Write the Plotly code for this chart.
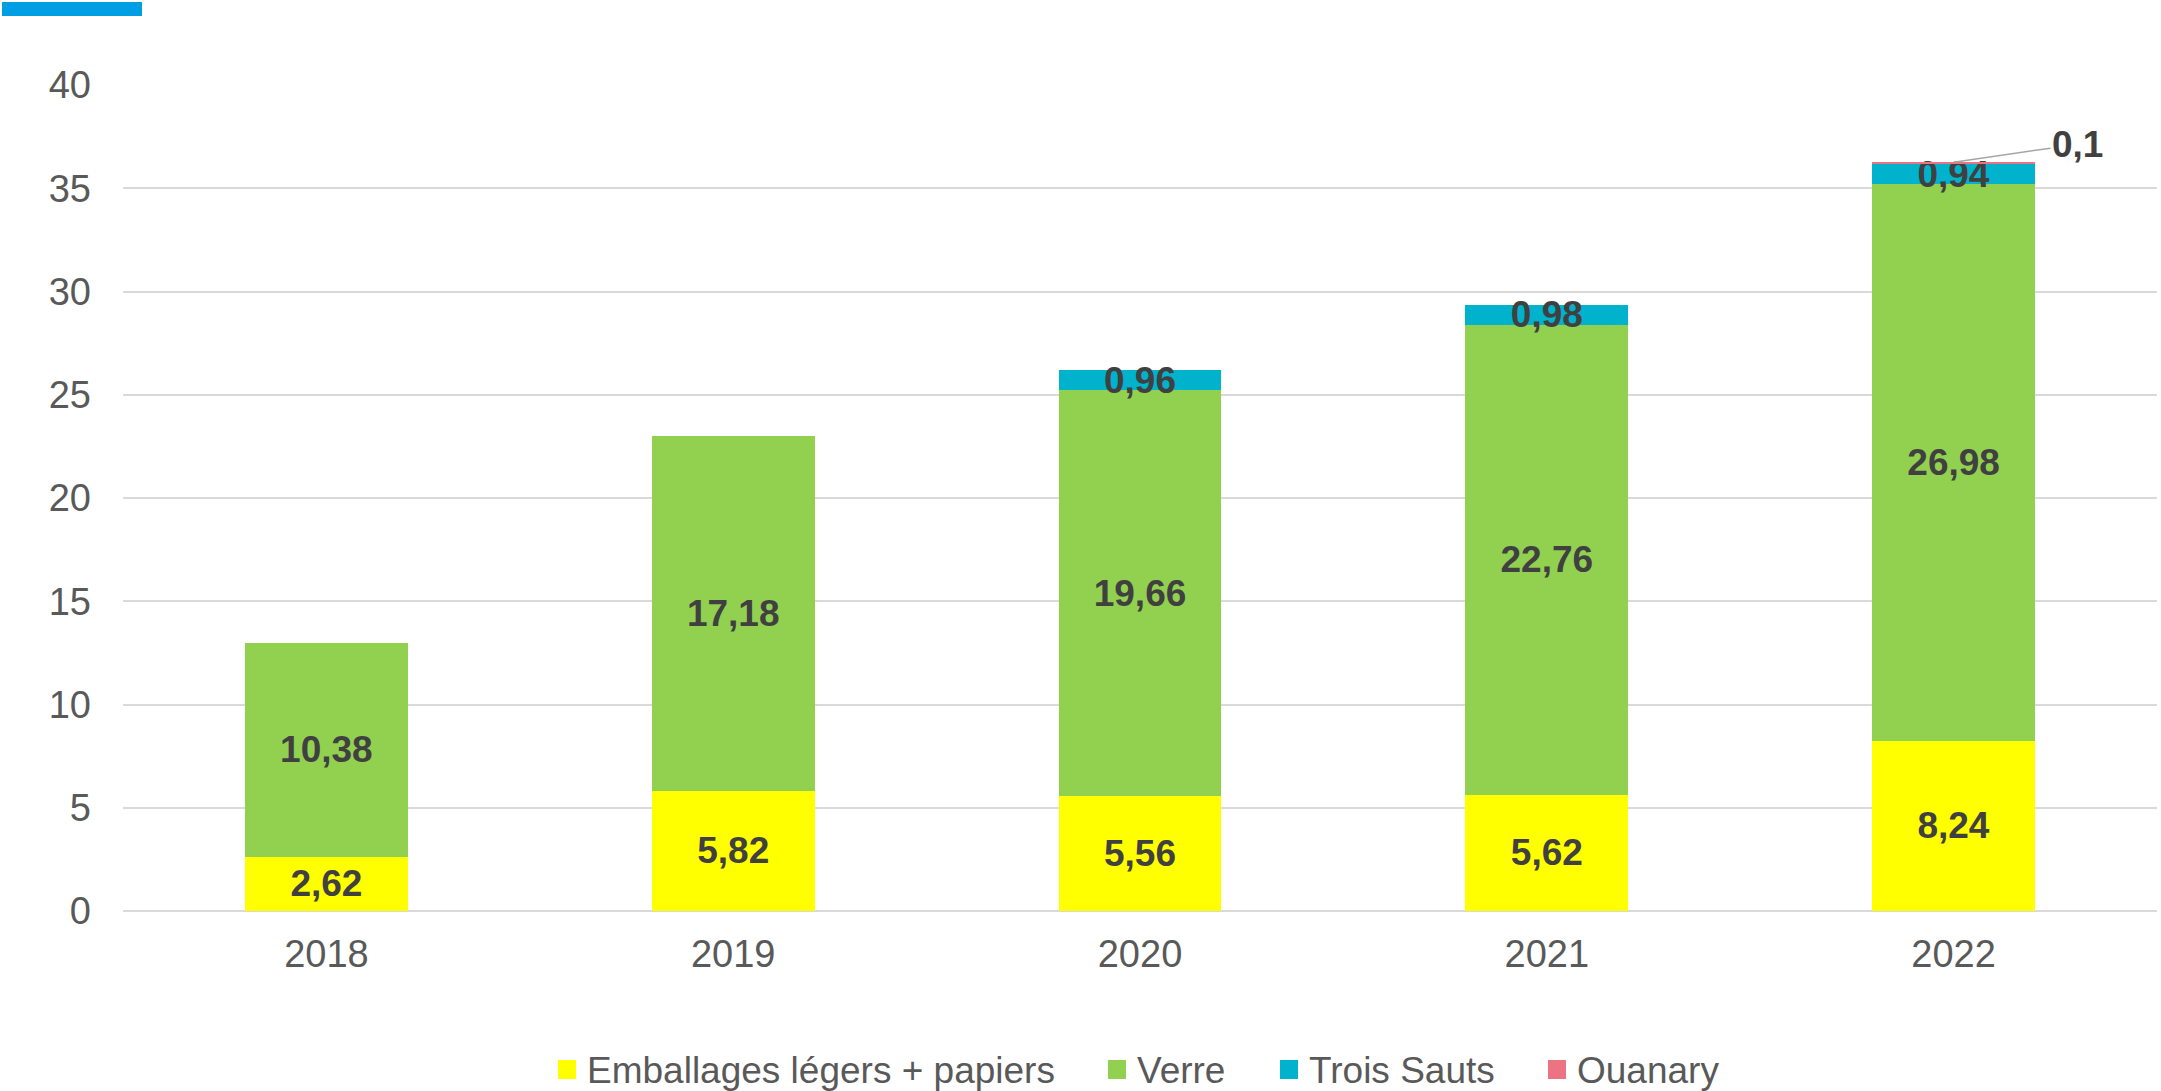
import plotly.graph_objects as go

years = ["2018", "2019", "2020", "2021", "2022"]
emballages = [2.62, 5.82, 5.56, 5.62, 8.24]
verre = [10.38, 17.18, 19.66, 22.76, 26.98]
trois_sauts = [None, None, 0.96, 0.98, 0.94]
ouanary = [None, None, None, None, 0.10]

series_names = ["Emballages légers + papiers", "Verre", "Trois Sauts", "Ouanary"]
series_values = [emballages, verre, trois_sauts, ouanary]
series_colors = ["#FFFF00", "#92D050", "#00B2CB", "#EC7381"]

FONT = "Liberation Sans, Arial, sans-serif"
W, H = 2161, 1091
M_L, M_R, M_T, M_B = 123, 4, 85, 180
PLOT_W = W - M_L - M_R
PLOT_H = H - M_T - M_B


def px_x(px):
    """pixel column -> paper x"""
    return (px - M_L) / PLOT_W


def px_y(py):
    """pixel row -> paper y"""
    return (H - M_B - py) / PLOT_H


def fmt(v):
    if v is None:
        return ""
    s = f"{v:.2f}".rstrip("0").rstrip(".")
    return s.replace(".", ",")


fig = go.Figure()
for name, vals, color in zip(series_names, series_values, series_colors):
    show_text = name != "Ouanary"
    fig.add_trace(go.Bar(
        x=years, y=vals, name=name,
        marker=dict(color=color, line=dict(width=0)),
        text=[fmt(v) for v in vals] if show_text else None,
        textposition="inside",
        insidetextanchor="middle",
        constraintext="none",
        textangle=0,
        textfont=dict(family=FONT, size=37, color="#404040", weight="bold"),
        cliponaxis=False,
        showlegend=False,
    ))

# Ouanary value is labelled outside the bar with a leader line
# (category axes position annotations by category index)
idx_2022 = years.index("2022")
total_2022 = sum(v for v in (emballages[idx_2022], verre[idx_2022],
                             trois_sauts[idx_2022], ouanary[idx_2022]))
fig.add_annotation(
    x=idx_2022, y=total_2022, text=fmt(ouanary[idx_2022]),
    showarrow=True, arrowhead=0, arrowwidth=1.5, arrowcolor="#A6A6A6",
    ax=124, ay=-18, xanchor="center",
    font=dict(family=FONT, size=37, color="#404040", weight="bold"),
)

# legend row below the axis: colour square followed by the series name
legend_square_px = [558, 1108, 1280, 1548]
for name, color, sx in zip(series_names, series_colors, legend_square_px):
    fig.add_shape(type="rect", xref="paper", yref="paper",
                  x0=px_x(sx), x1=px_x(sx + 18), y0=px_y(1079), y1=px_y(1060),
                  fillcolor=color, line=dict(width=0))
    fig.add_annotation(xref="paper", yref="paper", x=px_x(sx + 27), y=px_y(1070),
                       text=name, showarrow=False, xanchor="left", yanchor="middle",
                       font=dict(family=FONT, size=37, color="#595959"))

# accent bar in the top-left corner
fig.add_shape(type="rect", xref="paper", yref="paper",
              x0=px_x(2), x1=px_x(142), y0=px_y(16), y1=px_y(2),
              fillcolor="#009FE3", line=dict(width=0), layer="above")

fig.update_layout(
    width=W, height=H,
    margin=dict(l=M_L, r=M_R, t=M_T, b=M_B),
    barmode="stack", bargap=0.6,
    paper_bgcolor="white", plot_bgcolor="white",
    font=dict(family=FONT, color="#595959"),
    showlegend=False,
    xaxis=dict(type="category", range=[-0.5, 4.5], showgrid=False, showline=False,
               zeroline=False,
               tickfont=dict(family=FONT, size=38, color="#595959"),
               ticklabelstandoff=17),
    yaxis=dict(range=[0, 40], dtick=5, showgrid=True, gridcolor="#D9D9D9", gridwidth=2,
               zeroline=True, zerolinecolor="#D9D9D9", zerolinewidth=2, showline=False,
               tickfont=dict(family=FONT, size=38, color="#595959"),
               ticklabelstandoff=31),
)

fig.write_html("out.html")
